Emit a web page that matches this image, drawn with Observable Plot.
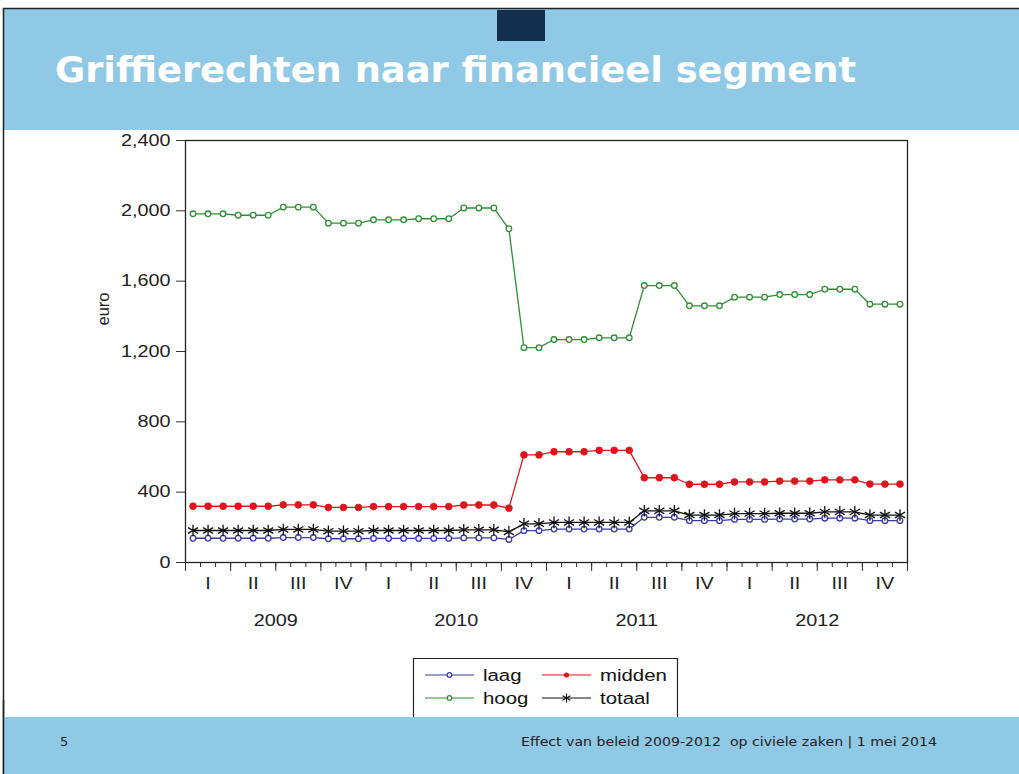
<!DOCTYPE html>
<html>
<head>
<meta charset="utf-8">
<script src="https://cdn.jsdelivr.net/npm/d3@7"></script>
<script src="https://cdn.jsdelivr.net/npm/@observablehq/plot@0.6"></script>
<style>
  html, body { margin: 0; padding: 0; background: #fff; }
  #page { position: relative; width: 1019px; height: 774px; overflow: hidden; background: #fff; }
  .abs { position: absolute; left: 0; top: 0; }
</style>
</head>
<body>
<div id="page"></div>
<script>
// ---------- data ----------
const years = [2009, 2010, 2011, 2012];
const quarterLabels = ["I", "II", "III", "IV"];
const yTicks = [0, 400, 800, 1200, 1600, 2000, 2400];
const seriesNames = ["laag", "midden", "hoog", "totaal"];

// monthly values Jan 2009 .. Dec 2012 (euro)
const laag = [
  138,138,138,138,138,138, 142,142,142, 135,135,135,
  137,137,137,137,137,137, 140,140,140, 131, 181,181,
  190,190,190,190,190,190, 257,257,257, 238,238,238,
  245,245,245, 247,247,247, 252,252,252, 238,238,238
];
const midden = [
  320,320,320,320,320,320, 328,328,328, 313,313,313,
  318,318,318,318,318,318, 327,327,327, 309, 612,612,
  630,630,630,638,638,638, 482,482,482, 445,445,445,
  458,458,458, 463,463,463, 470,470,470, 446,446,446
];
const hoog = [
  1983,1983,1983, 1975,1975,1975, 2021,2021,2021, 1930,1930,1930,
  1949,1949,1949, 1955,1955,1955, 2016,2016,2016, 1898, 1222,1222,
  1268,1268,1268, 1278,1278,1278, 1575,1575,1575, 1460,1460,1460,
  1509,1509,1509, 1524,1524,1524, 1554,1554,1554, 1469,1469,1469
];
const totaal = [
  182,182,182,182,182,182, 188,188,188, 178,178,178,
  182,182,182,182,182,182, 186,186,186, 174, 220,220,
  228,228,228,228,228,228, 294,294,294, 270,270,270,
  278,278,278, 280,280,280, 288,288,288, 270,270,270
];

const colors = { laag: "#3b3ba6", midden: "#e0141c", hoog: "#2f8f35", totaal: "#111111" };

// ---------- page chrome ----------
const page = document.getElementById("page");
const W = 1019, H = 774;
const FONT = "'Liberation Sans', Arial, sans-serif";
const SX = 1.2; // horizontal text stretch seen in the reference

const chrome = d3.create("svg").attr("class", "abs").attr("width", W).attr("height", H);
chrome.append("rect").attr("x", 4).attr("y", 9).attr("width", W - 4).attr("height", 121).attr("fill", "#8fc9e6");
chrome.append("rect").attr("x", 497).attr("y", 10).attr("width", 48).attr("height", 31).attr("fill", "#12304e");
chrome.append("line").attr("x1", 3.5).attr("x2", 3.5).attr("y1", 8).attr("y2", H).attr("stroke", "#222").attr("stroke-width", 1.5);
chrome.append("line").attr("x1", 3).attr("x2", W).attr("y1", 8.5).attr("y2", 8.5).attr("stroke", "#222").attr("stroke-width", 1.5);
chrome.append("text")
  .attr("x", 55).attr("y", 82)
  .attr("fill", "#fff")
  .attr("font-family", "'DejaVu Sans', Verdana, sans-serif")
  .attr("font-weight", "bold")
  .attr("font-size", 36)
  .attr("textLength", 801)
  .attr("lengthAdjust", "spacingAndGlyphs")
  .text("Griffierechten naar financieel segment");
page.appendChild(chrome.node());

// ---------- chart ----------
const rows = [];
[["laag", laag], ["midden", midden], ["hoog", hoog], ["totaal", totaal]].forEach(([name, arr]) => {
  arr.forEach((v, i) => rows.push({ series: name, x: i + 0.5, v }));
});
const of = name => rows.filter(d => d.series === name);

const monthTicks = d3.range(0, 49);
const quarterTicks = d3.range(0, 49, 3);
const quarterLabelPos = d3.range(16).map(k => 1.5 + 3 * k);
const yearLabelPos = years.map((y, i) => 6 + 12 * i);
const fmt = d3.format(",");

const plotTop = 130;
const chart = Plot.plot({
  width: W,
  height: 717 - plotTop,
  marginLeft: 185,
  marginRight: 112,
  marginTop: 10,
  marginBottom: 155,
  style: { fontFamily: FONT, fontSize: "16.5px", background: "transparent", color: "#222" },
  x: { domain: [0, 48] },
  y: { domain: [0, 2400] },
  marks: [
    Plot.axisY({ ticks: yTicks, tickSize: 9, tickPadding: 6, tickFormat: d => fmt(d), label: null, stroke: "#333" }),
    Plot.axisX({ ticks: monthTicks, tickSize: 5, tickFormat: () => "", label: null, stroke: "#333" }),
    Plot.axisX({ ticks: quarterTicks, tickSize: 9, tickFormat: () => "", label: null, stroke: "#333" }),
    Plot.axisX({ ticks: quarterLabelPos, tickSize: 0, tickPadding: 15, label: null,
      tickFormat: d => quarterLabels[Math.round((d - 1.5) / 3) % 4] }),
    Plot.axisX({ ticks: yearLabelPos, tickSize: 0, tickPadding: 52, label: null,
      tickFormat: d => String(years[Math.round((d - 6) / 12)]) }),
    Plot.text(["euro"], { frameAnchor: "left", text: d => d, dx: -82, dy: -26, rotate: -90, fill: "#222" }),
    Plot.frame({ stroke: "#222", strokeWidth: 1.3 }),
    Plot.line(of("hoog"), { x: "x", y: "v", stroke: colors.hoog, strokeWidth: 1.3 }),
    Plot.line(of("midden"), { x: "x", y: "v", stroke: colors.midden, strokeWidth: 1.3 }),
    Plot.line(of("laag"), { x: "x", y: "v", stroke: colors.laag, strokeWidth: 1.3 }),
    Plot.line(of("totaal"), { x: "x", y: "v", stroke: colors.totaal, strokeWidth: 1.3 }),
    Plot.dot(of("hoog"), { x: "x", y: "v", r: 2.8, stroke: colors.hoog, fill: "white", strokeWidth: 1.3 }),
    Plot.dot(of("midden"), { x: "x", y: "v", r: 3.4, fill: colors.midden, stroke: colors.midden, strokeWidth: 0.8 }),
    Plot.dot(of("laag"), { x: "x", y: "v", r: 2.8, stroke: colors.laag, fill: "white", strokeWidth: 1.3 }),
    Plot.dot(of("totaal"), { x: "x", y: "v", r: 5.5, symbol: "asterisk", stroke: colors.totaal, strokeWidth: 1.3 })
  ]
});
chart.style.position = "absolute";
chart.style.left = "0px";
chart.style.top = plotTop + "px";
// stretch tick labels horizontally like the reference
chart.querySelectorAll('g[aria-label$="tick label"] text').forEach(t => {
  const tr = t.getAttribute("transform") || "";
  t.setAttribute("transform", tr + ` scale(${SX},1)`);
});
page.appendChild(chart);

// ---------- legend ----------
const lg = d3.create("svg").attr("class", "abs").attr("width", W).attr("height", H);
lg.append("path").attr("d", "M413.5,720V658.5H677.5V720").attr("fill", "none").attr("stroke", "#222").attr("stroke-width", 1.2);
const legendItems = [
  { name: "laag", x: 425, y: 675 },
  { name: "midden", x: 542, y: 675 },
  { name: "hoog", x: 425, y: 698 },
  { name: "totaal", x: 542, y: 698 }
];
legendItems.forEach(it => {
  const c = colors[it.name];
  lg.append("line").attr("x1", it.x).attr("x2", it.x + 49).attr("y1", it.y).attr("y2", it.y).attr("stroke", c).attr("stroke-width", 1.2);
  const mx = it.x + 24.5, my = it.y;
  if (it.name === "laag" || it.name === "hoog") {
    lg.append("circle").attr("cx", mx).attr("cy", my).attr("r", 2.3).attr("fill", "white").attr("stroke", c).attr("stroke-width", 1.2);
  } else if (it.name === "midden") {
    lg.append("circle").attr("cx", mx).attr("cy", my).attr("r", 2.6).attr("fill", c);
  } else {
    const r = 4.5;
    const p = d3.path();
    for (let k = 0; k < 3; k++) {
      const a = Math.PI / 2 + k * Math.PI / 3;
      p.moveTo(mx + r * Math.cos(a), my + r * Math.sin(a));
      p.lineTo(mx - r * Math.cos(a), my - r * Math.sin(a));
    }
    lg.append("path").attr("d", p.toString()).attr("stroke", c).attr("stroke-width", 1.1);
  }
  lg.append("text")
    .attr("transform", `translate(${it.x + 58},${it.y + 6}) scale(${SX},1)`)
    .attr("font-family", FONT).attr("font-size", 17).attr("fill", "#111")
    .text(it.name);
});
page.appendChild(lg.node());

// ---------- footer ----------
const ft = d3.create("svg").attr("class", "abs").attr("width", W).attr("height", H);
ft.append("rect").attr("x", 4).attr("y", 717).attr("width", W - 4).attr("height", H - 717).attr("fill", "#8fc9e6");
ft.append("line").attr("x1", 3.5).attr("x2", 3.5).attr("y1", 700).attr("y2", H).attr("stroke", "#222").attr("stroke-width", 1.5);
ft.append("text").attr("x", 60).attr("y", 746)
  .attr("font-family", "'DejaVu Sans', Verdana, sans-serif").attr("font-size", 13).attr("fill", "#222")
  .text("5");
ft.append("text").attr("x", 521).attr("y", 746)
  .attr("font-family", "'DejaVu Sans', Verdana, sans-serif").attr("font-size", 13).attr("fill", "#222")
  .attr("textLength", 416).attr("lengthAdjust", "spacingAndGlyphs")
  .attr("xml:space", "preserve").style("white-space", "pre")
  .text("Effect van beleid 2009-2012  op civiele zaken | 1 mei 2014");
page.appendChild(ft.node());
</script>
</body>
</html>
